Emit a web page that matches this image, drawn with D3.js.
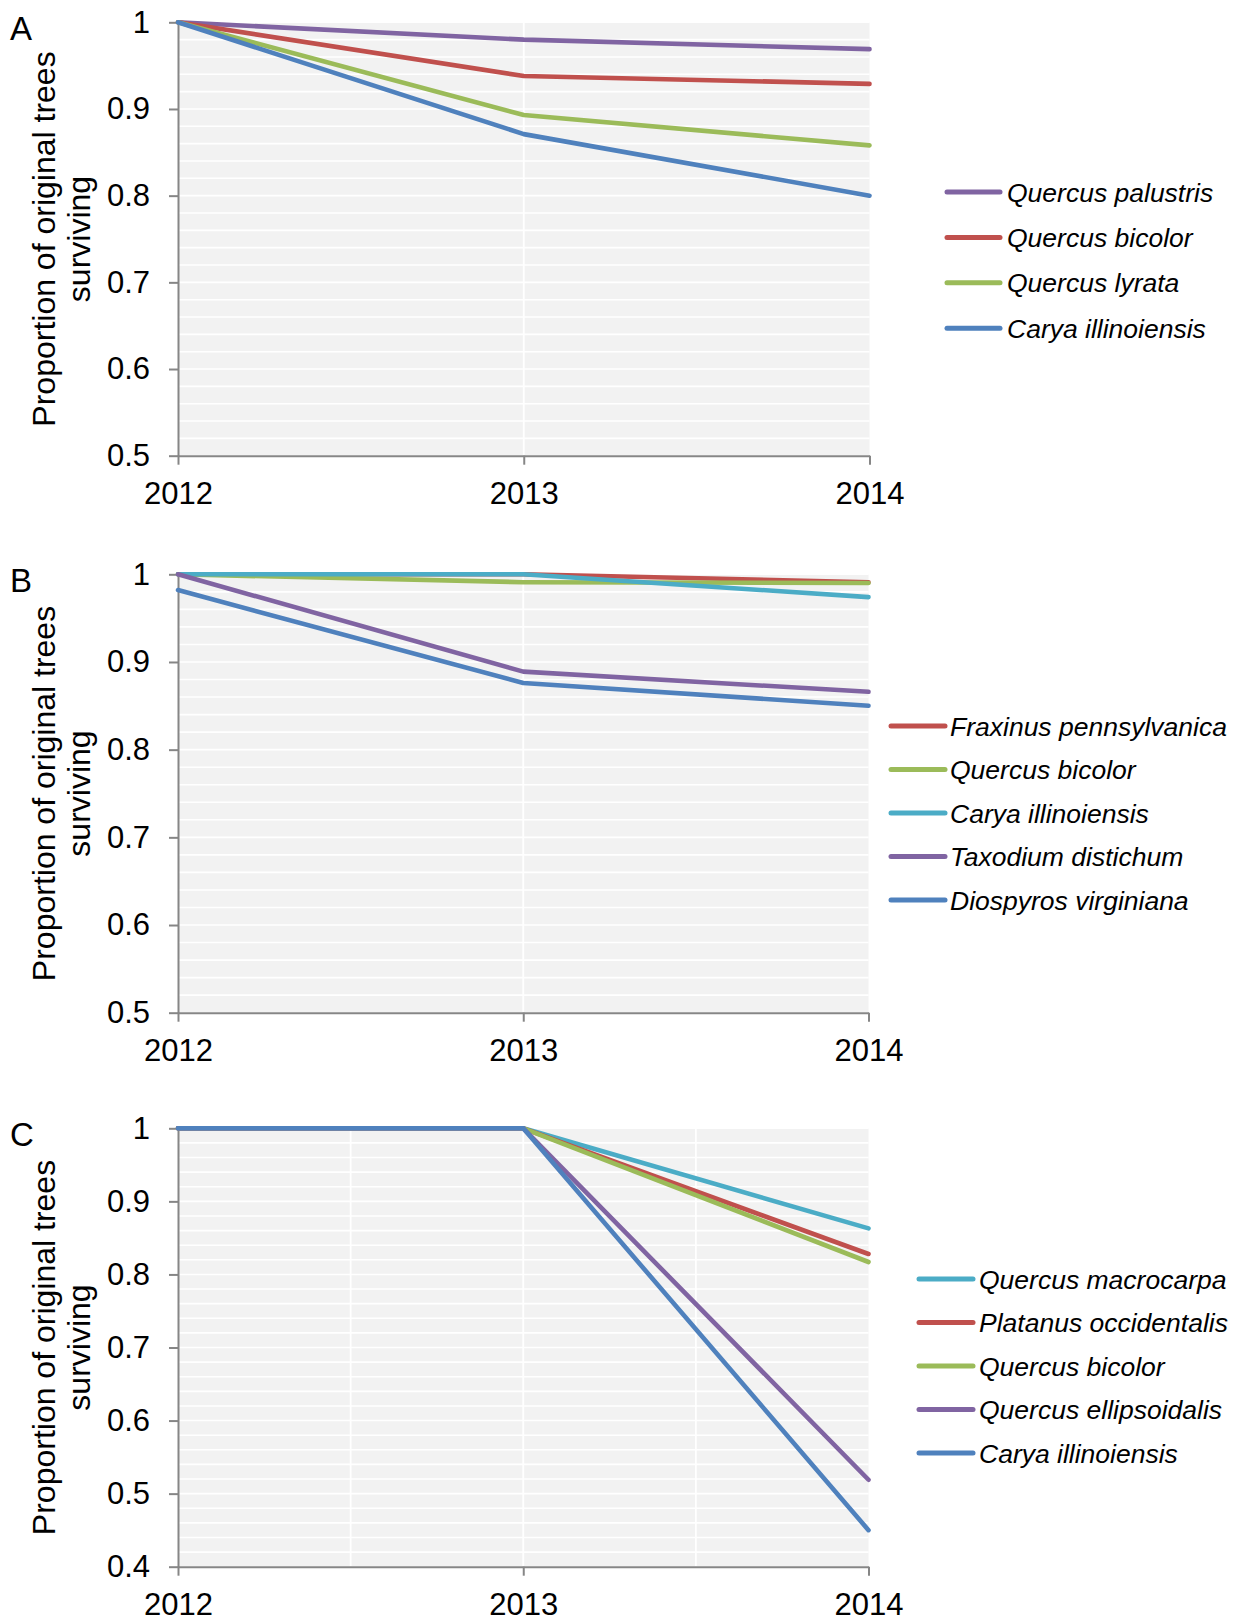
<!DOCTYPE html>
<html>
<head>
<meta charset="utf-8">
<script src="https://cdn.jsdelivr.net/npm/d3@7"></script>
<style>
  html, body { margin: 0; padding: 0; background: #fff; }
  svg { display: block; }
  text { font-family: "Liberation Sans", Arial, sans-serif; }
</style>
</head>
<body>
<svg id="chart" width="1241" height="1622"></svg>
<script>
// ---------- DATA ----------
const years = [2012, 2013, 2014];

const panelLabels = ["A", "B", "C"];

const speciesA = ["Quercus palustris", "Quercus bicolor", "Quercus lyrata", "Carya illinoiensis"];
const valuesA = [
  [1.000, 0.980, 0.969],
  [1.000, 0.938, 0.929],
  [1.000, 0.893, 0.858],
  [1.000, 0.871, 0.800]
];
const colorsA = ["#8064a2", "#c0504d", "#9bbb59", "#4f81bd"];
const yTicksA = [0.5, 0.6, 0.7, 0.8, 0.9, 1];

const speciesB = ["Fraxinus pennsylvanica", "Quercus bicolor", "Carya illinoiensis", "Taxodium distichum", "Diospyros virginiana"];
const valuesB = [
  [1.000, 1.000, 0.991],
  [1.000, 0.991, 0.990],
  [1.000, 1.000, 0.974],
  [1.000, 0.889, 0.866],
  [0.982, 0.876, 0.850]
];
const colorsB = ["#c0504d", "#9bbb59", "#4bacc6", "#8064a2", "#4f81bd"];
const yTicksB = [0.5, 0.6, 0.7, 0.8, 0.9, 1];

const speciesC = ["Quercus macrocarpa", "Platanus occidentalis", "Quercus bicolor", "Quercus ellipsoidalis", "Carya illinoiensis"];
const valuesC = [
  [1.000, 1.000, 0.863],
  [1.000, 1.000, 0.828],
  [1.000, 1.000, 0.817],
  [1.000, 1.000, 0.519],
  [1.000, 1.000, 0.450]
];
const colorsC = ["#4bacc6", "#c0504d", "#9bbb59", "#8064a2", "#4f81bd"];
const yTicksC = [0.4, 0.5, 0.6, 0.7, 0.8, 0.9, 1];

const yTitle1 = "Proportion of original trees";
const yTitle2 = "surviving";

// ---------- LAYOUT ----------
const panels = [
  { label: panelLabels[0], species: speciesA, values: valuesA, colors: colorsA, yTicks: yTicksA,
    top: 22.3, bottom: 455.7, right: 869.5, vgrid: [2013],
    legend: { x1: 947, x2: 1000, tx: 1007, y0: 192, dy: 45.4 } },
  { label: panelLabels[1], species: speciesB, values: valuesB, colors: colorsB, yTicks: yTicksB,
    top: 574.3, bottom: 1012.7, right: 868.5, vgrid: [2013],
    legend: { x1: 891, x2: 945, tx: 950, y0: 726, dy: 43.5 } },
  { label: panelLabels[2], species: speciesC, values: valuesC, colors: colorsC, yTicks: yTicksC,
    top: 1128.3, bottom: 1566.7, right: 868.5, vgrid: [2012.5, 2013, 2013.5],
    legend: { x1: 919, x2: 973, tx: 979, y0: 1279, dy: 43.5 } }
];

const left = 178;
const svg = d3.select("#chart");
svg.append("rect").attr("width", 1241).attr("height", 1622).attr("fill", "#fff");

const fmtY = d3.format(".1~f");
const axisColor = "#868686";

panels.forEach(p => {
  const yMin = d3.min(p.yTicks), yMax = d3.max(p.yTicks);
  const x = d3.scaleLinear().domain([years[0], years[years.length - 1]]).range([left, p.right]);
  const y = d3.scaleLinear().domain([yMin, yMax]).range([p.bottom, p.top]);
  const g = svg.append("g");

  // plot background
  g.append("rect")
    .attr("x", x(years[0])).attr("y", y(yMax))
    .attr("width", x(years[years.length - 1]) - x(years[0]))
    .attr("height", y(yMin) - y(yMax))
    .attr("fill", "#f2f2f2");

  // horizontal minor grid (every 0.02)
  const hgrid = d3.range(Math.round((yMax - yMin) / 0.02) + 1).map(i => yMin + i * 0.02);
  g.append("g").selectAll("line").data(hgrid).join("line")
    .attr("x1", x(years[0])).attr("x2", x(years[years.length - 1]))
    .attr("y1", d => y(d)).attr("y2", d => y(d))
    .attr("stroke", "#fff").attr("stroke-width", 1.6);

  // vertical grid
  g.append("g").selectAll("line").data(p.vgrid).join("line")
    .attr("x1", d => x(d)).attr("x2", d => x(d))
    .attr("y1", y(yMax)).attr("y2", y(yMin))
    .attr("stroke", "#fff").attr("stroke-width", 1.8);

  // y axis
  const ya = g.append("g").attr("transform", `translate(${x(years[0])},0)`)
    .call(d3.axisLeft(y).tickValues(p.yTicks).tickFormat(fmtY).tickSize(9).tickSizeOuter(0).tickPadding(19));
  // x axis
  const xa = g.append("g").attr("transform", `translate(0,${y(yMin)})`)
    .call(d3.axisBottom(x).tickValues(years).tickFormat(d3.format("d")).tickSize(9).tickSizeOuter(0).tickPadding(17));
  [ya, xa].forEach(a => {
    a.select(".domain").attr("stroke", axisColor).attr("stroke-width", 2);
    a.selectAll(".tick line").attr("stroke", axisColor).attr("stroke-width", 2);
    a.selectAll(".tick text").attr("fill", "#000").attr("font-size", 31)
      .attr("font-family", '"Liberation Sans", Arial, sans-serif');
  });

  // lines
  const line = d3.line().x((d, i) => x(years[i])).y(d => y(d));
  g.append("g").selectAll("path").data(p.values).join("path")
    .attr("d", d => line(d))
    .attr("fill", "none")
    .attr("stroke", (d, i) => p.colors[i])
    .attr("stroke-width", 4.6)
    .attr("stroke-linecap", "round")
    .attr("stroke-linejoin", "round");

  // y title
  const cy = (y(yMax) + y(yMin)) / 2;
  const t = g.append("text")
    .attr("transform", `translate(0,${cy}) rotate(-90)`)
    .attr("text-anchor", "middle")
    .attr("font-size", 32).attr("fill", "#000");
  t.append("tspan").attr("x", 0).attr("y", 55).text(yTitle1);
  t.append("tspan").attr("x", 0).attr("y", 90).text(yTitle2);

  // panel letter
  g.append("text").attr("x", 10).attr("y", y(yMax) + 18)
    .attr("font-size", 33).attr("fill", "#000").text(p.label);

  // legend
  const lg = g.append("g");
  p.species.forEach((s, i) => {
    const ly = p.legend.y0 + i * p.legend.dy;
    lg.append("line").attr("x1", p.legend.x1).attr("x2", p.legend.x2)
      .attr("y1", ly).attr("y2", ly)
      .attr("stroke", p.colors[i]).attr("stroke-width", 5).attr("stroke-linecap", "round");
    lg.append("text").attr("x", p.legend.tx).attr("y", ly).attr("dy", "0.36em")
      .attr("font-size", 26.5).attr("font-style", "italic").attr("fill", "#000").text(s);
  });
});
</script>
</body>
</html>
